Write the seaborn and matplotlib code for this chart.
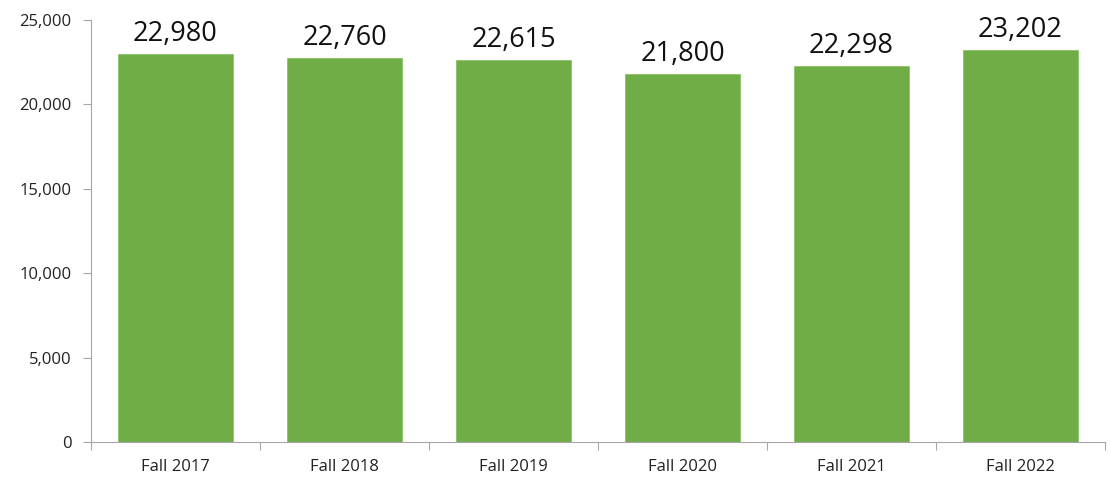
import matplotlib
matplotlib.use("Agg")
import matplotlib.pyplot as plt
import seaborn as sns
import pandas as pd
import numpy as np

categories = ["Fall 2017", "Fall 2018", "Fall 2019", "Fall 2020", "Fall 2021", "Fall 2022"]
values = [22980, 22760, 22615, 21800, 22298, 23202]
yticks = [0, 5000, 10000, 15000, 20000, 25000]

sns.set_style("white")
plt.rcParams['font.family'] = ['Open Sans', 'DejaVu Sans']

df = pd.DataFrame({"term": categories, "count": values})

fig = plt.figure(figsize=(11.11, 4.8), dpi=100)
ax = fig.add_axes([0.0819, 0.0792, 0.9127, 0.8791])

sns.barplot(data=df, x="term", y="count", color="#70AD47", width=0.675,
            saturation=1, edgecolor="#8CC168", linewidth=0.6, ax=ax)

ax.set_xlim(-0.5, len(categories) - 0.5)
ax.set_ylim(0, 25000)
ax.set_yticks(yticks)
ax.set_yticklabels([f"{v:,}" for v in yticks], fontsize=12, color="#222222")
ax.set_xlabel("")
ax.set_ylabel("")
ax.tick_params(axis="x", which="major", bottom=False, length=0, labelsize=12, labelcolor="#222222", pad=12)
ax.set_xticks(np.arange(-0.5, len(categories), 1.0), minor=True)
ax.tick_params(axis="x", which="minor", bottom=True, length=6, width=0.8, color="#A6A6A6", direction="out")
ax.tick_params(axis="y", left=True, length=6, width=0.8, color="#A6A6A6", direction="out", labelsize=12, pad=8)

for s in ["top", "right"]:
    ax.spines[s].set_visible(False)
for s in ["left", "bottom"]:
    ax.spines[s].set_color("#A6A6A6")
    ax.spines[s].set_linewidth(0.8)

for i, v in enumerate(values):
    ax.text(i, v + 350, f"{v:,}", ha="center", va="bottom", fontsize=19.5, color="#111111")

fig.savefig("out.png", dpi=100)
